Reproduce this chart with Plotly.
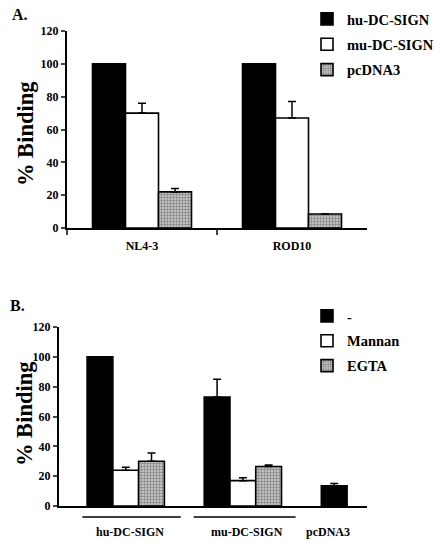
import plotly.graph_objects as go

# ---------------- data ----------------
# Panel A
a_categories = ["NL4-3", "ROD10"]
a_hu = [100, 100]
a_hu_err = [0, 0]
a_mu = [70, 67]
a_mu_err = [6, 10]
a_pc = [22, 8.5]
a_pc_err = [2, 0]

# Panel B
b_categories = ["hu-DC-SIGN", "mu-DC-SIGN", "pcDNA3"]
b_none = [100, 73, 13.5]
b_none_err = [0, 12, 1.5]
b_mannan = [24, 17, None]
b_mannan_err = [2, 2, 0]
b_egta = [30, 26.5, None]
b_egta_err = [5.5, 1, 0]

y_ticks = [0, 20, 40, 60, 80, 100, 120]

# ---------------- style ----------------
FONT = "Liberation Serif"
W, H = 434, 542

def px_x(p):
    return p / W

def px_y(p):
    return 1 - p / H

pattern = dict(shape=".", fgcolor="#3a3a3a", bgcolor="#d0d0d0", size=3, solidity=0.5)
line = dict(color="black", width=1.6)

def err(arr):
    return dict(type="data", array=arr, arrayminus=[0] * len(arr), symmetric=False,
                color="black", thickness=1.5, width=4)

fig = go.Figure()

# Panel A traces
fig.add_trace(go.Bar(x=a_categories, y=a_hu, name="hu-DC-SIGN", marker=dict(color="black", line=line),
                     error_y=err(a_hu_err), xaxis="x", yaxis="y", legend="legend", legendgroup="a1"))
fig.add_trace(go.Bar(x=a_categories, y=a_mu, name="mu-DC-SIGN", marker=dict(color="white", line=line),
                     error_y=err(a_mu_err), xaxis="x", yaxis="y", legend="legend", legendgroup="a2"))
fig.add_trace(go.Bar(x=a_categories, y=a_pc, name="pcDNA3", marker=dict(color="#d0d0d0", pattern=pattern, line=line),
                     error_y=err(a_pc_err), xaxis="x", yaxis="y", legend="legend", legendgroup="a3"))

# Panel B traces
fig.add_trace(go.Bar(x=b_categories, y=b_none, name="-", marker=dict(color="black", line=line),
                     error_y=err(b_none_err), xaxis="x2", yaxis="y2", legend="legend2", legendgroup="b1"))
fig.add_trace(go.Bar(x=b_categories, y=b_mannan, name="Mannan", marker=dict(color="white", line=line),
                     error_y=err(b_mannan_err), xaxis="x2", yaxis="y2", legend="legend2", legendgroup="b2"))
fig.add_trace(go.Bar(x=b_categories, y=b_egta, name="EGTA", marker=dict(color="#d0d0d0", pattern=pattern, line=line),
                     error_y=err(b_egta_err), xaxis="x2", yaxis="y2", legend="legend2", legendgroup="b3"))

tickfont = dict(family=FONT, size=12, color="black", weight="bold")
yax_common = dict(range=[0, 120], tickvals=y_ticks, ticks="outside", ticklen=4, tickwidth=1.5,
                  showline=True, linecolor="black", linewidth=2, showgrid=False, zeroline=False,
                  tickfont=tickfont, fixedrange=True, automargin=False)

legend_font = dict(family=FONT, size=14.5, color="black", weight="bold")

fig.update_layout(
    width=W, height=H,
    margin=dict(l=0, r=0, t=0, b=0, autoexpand=False),
    paper_bgcolor="white", plot_bgcolor="white",
    barmode="group",
    bargap=0.34,
    showlegend=True,
    xaxis=dict(domain=[px_x(67), px_x(367)], anchor="y", type="category", range=[-0.5, 1.5],
               showline=True, linecolor="black", linewidth=2, ticks="outside", tickson="boundaries",
               ticklen=5, tickwidth=1.5, tickfont=dict(family=FONT, size=12, color="black", weight="bold"),
               ticklabelstandoff=6, showgrid=False, automargin=False),
    yaxis=dict(domain=[px_y(228), px_y(31)], anchor="x", **yax_common),
    xaxis2=dict(domain=[px_x(59), px_x(367)], anchor="y2", type="category", range=[-0.57, 2.06],
                showline=True, linecolor="black", linewidth=2, ticks="", showticklabels=False, showgrid=False,
                automargin=False),
    yaxis2=dict(domain=[px_y(506), px_y(327)], anchor="x2", **yax_common),
    legend=dict(x=px_x(307), y=px_y(3), xanchor="left", yanchor="top", font=legend_font,
                tracegroupgap=3.5, bgcolor="rgba(0,0,0,0)", itemclick=False, itemdoubleclick=False),
    legend2=dict(x=px_x(307), y=px_y(300), xanchor="left", yanchor="top", font=legend_font,
                 tracegroupgap=3, bgcolor="rgba(0,0,0,0)", itemclick=False, itemdoubleclick=False),
)

# panel B group labels & underlines
ann_font = dict(family=FONT, size=12, color="black")
for cat, shift in zip(b_categories, [4, 4, -32]):
    fig.add_annotation(x=cat, y=px_y(532), xref="x2", yref="paper", text="<b>" + cat + "</b>",
                       showarrow=False, font=ann_font, xshift=shift, xanchor="center", yanchor="middle")
fig.add_shape(type="line", xref="x2", yref="paper", x0=-0.37, x1=0.47, y0=px_y(517), y1=px_y(517),
              line=dict(color="black", width=1.5))
fig.add_shape(type="line", xref="x2", yref="paper", x0=0.58, x1=1.45, y0=px_y(517), y1=px_y(517),
              line=dict(color="black", width=1.5))

# panel letters and y titles
for txt, xx, yy in [("A.", 20, 15), ("B.", 17, 305)]:
    fig.add_annotation(x=px_x(xx), y=px_y(yy), xref="paper", yref="paper", text="<b>" + txt + "</b>",
                       showarrow=False, xanchor="center", yanchor="middle",
                       font=dict(family=FONT, size=16, color="black"))
for xx, yy in [(25, 134), (24, 414)]:
    fig.add_annotation(x=px_x(xx), y=px_y(yy), xref="paper", yref="paper", text="<b>% Binding</b>",
                       showarrow=False, textangle=-90, xanchor="center", yanchor="middle",
                       font=dict(family=FONT, size=22.5, color="black"))

fig.write_html("out.html")
